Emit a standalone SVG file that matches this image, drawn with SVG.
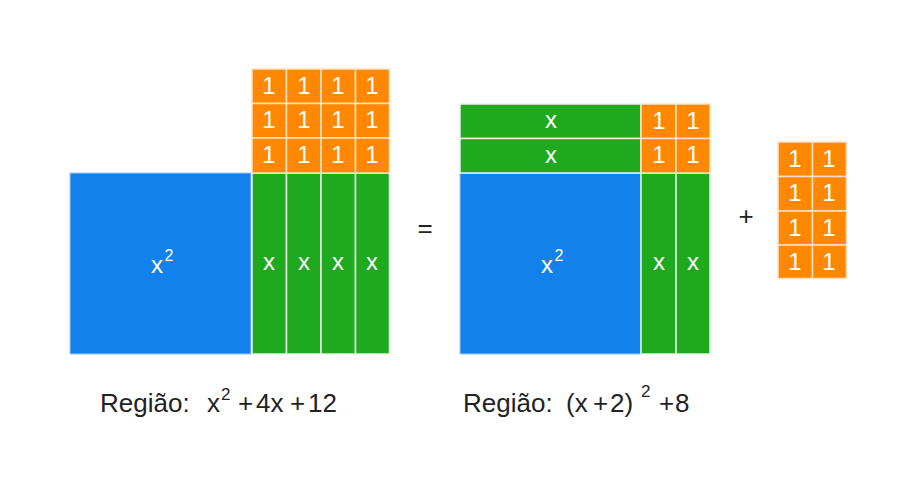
<svg xmlns="http://www.w3.org/2000/svg" width="915" height="498" viewBox="0 0 915 498">
<style>
.b{fill:#1281ec;stroke:#9cc9f5;stroke-width:1}
.g{fill:#1ea91e;stroke:#e6f5e6;stroke-width:1.5}
.o{fill:#ff8800;stroke:#ffe2c2;stroke-width:1.5}
.w{fill:#ffffff;font-family:"Liberation Sans",Arial,sans-serif;font-size:24px;text-anchor:middle}
.w.s{font-size:16px}
.t{fill:#222;font-family:"Liberation Sans",Arial,sans-serif;font-size:26px}
.t.s{font-size:17px}
</style>
<rect width="915" height="498" fill="#fff"/>
<g id="left-x2"><rect class="b" x="70" y="173" width="181" height="181"/><text class="w" x="157" y="273">x</text><text class="w s" x="169" y="261">2</text></g>
<g id="left-x">
<rect class="g" x="252" y="173" width="34.5" height="181"/><rect class="g" x="286.5" y="173" width="34.5" height="181"/><rect class="g" x="321" y="173" width="34.5" height="181"/><rect class="g" x="355.5" y="173" width="34" height="181"/>
<text class="w" x="269" y="270">x</text><text class="w" x="304" y="270">x</text><text class="w" x="338" y="270">x</text><text class="w" x="372" y="270">x</text>
</g>
<g id="left-ones">
<rect class="o" x="252" y="69" width="34.5" height="34.5"/><rect class="o" x="286.5" y="69" width="34.5" height="34.5"/><rect class="o" x="321" y="69" width="34.5" height="34.5"/><rect class="o" x="355.5" y="69" width="34" height="34.5"/>
<rect class="o" x="252" y="103.5" width="34.5" height="34.5"/><rect class="o" x="286.5" y="103.5" width="34.5" height="34.5"/><rect class="o" x="321" y="103.5" width="34.5" height="34.5"/><rect class="o" x="355.5" y="103.5" width="34" height="34.5"/>
<rect class="o" x="252" y="138" width="34.5" height="35"/><rect class="o" x="286.5" y="138" width="34.5" height="35"/><rect class="o" x="321" y="138" width="34.5" height="35"/><rect class="o" x="355.5" y="138" width="34" height="35"/>
<text class="w" x="269" y="94">1</text><text class="w" x="304" y="94">1</text><text class="w" x="338" y="94">1</text><text class="w" x="372" y="94">1</text>
<text class="w" x="269" y="128">1</text><text class="w" x="304" y="128">1</text><text class="w" x="338" y="128">1</text><text class="w" x="372" y="128">1</text>
<text class="w" x="269" y="163">1</text><text class="w" x="304" y="163">1</text><text class="w" x="338" y="163">1</text><text class="w" x="372" y="163">1</text>
</g>
<g id="equals"><text class="t" x="425" y="237" text-anchor="middle">=</text></g>
<g id="right-x2"><rect class="b" x="460" y="173" width="181" height="181"/><text class="w" x="547" y="273">x</text><text class="w s" x="559" y="261">2</text></g>
<g id="right-x">
<rect class="g" x="641" y="173" width="35" height="181"/><rect class="g" x="676" y="173" width="34" height="181"/>
<text class="w" x="659" y="270">x</text><text class="w" x="693" y="270">x</text>
<rect class="g" x="460" y="104" width="181" height="34.5"/><rect class="g" x="460" y="138.5" width="181" height="34.5"/>
<text class="w" x="551" y="128">x</text><text class="w" x="551" y="163">x</text>
</g>
<g id="right-ones">
<rect class="o" x="641" y="104" width="35" height="34.5"/><rect class="o" x="676" y="104" width="34" height="34.5"/>
<rect class="o" x="641" y="138.5" width="35" height="34.5"/><rect class="o" x="676" y="138.5" width="34" height="34.5"/>
<text class="w" x="659" y="129">1</text><text class="w" x="693" y="129">1</text>
<text class="w" x="659" y="163">1</text><text class="w" x="693" y="163">1</text>
</g>
<g id="plus"><text class="t" x="746" y="225" text-anchor="middle">+</text></g>
<g id="extra-ones">
<rect class="o" x="778" y="142" width="34.5" height="34.5"/><rect class="o" x="812.5" y="142" width="34" height="34.5"/>
<rect class="o" x="778" y="176.5" width="34.5" height="34.5"/><rect class="o" x="812.5" y="176.5" width="34" height="34.5"/>
<rect class="o" x="778" y="211" width="34.5" height="34"/><rect class="o" x="812.5" y="211" width="34" height="34"/>
<rect class="o" x="778" y="245" width="34.5" height="33.5"/><rect class="o" x="812.5" y="245" width="34" height="33.5"/>
<text class="w" x="795" y="167">1</text><text class="w" x="829" y="167">1</text>
<text class="w" x="795" y="201">1</text><text class="w" x="829" y="201">1</text>
<text class="w" x="795" y="236">1</text><text class="w" x="829" y="236">1</text>
<text class="w" x="795" y="270">1</text><text class="w" x="829" y="270">1</text>
</g>
<g id="label-left">
<text class="t" x="100" y="412">Região:</text>
<text class="t" x="207" y="412">x</text><text class="t s" x="221" y="400">2</text>
<text class="t" x="238" y="412">+</text><text class="t" x="256" y="412">4x</text><text class="t" x="290" y="412">+</text><text class="t" x="308" y="412">12</text>
</g>
<g id="label-right">
<text class="t" x="463" y="412">Região:</text>
<text class="t" x="566" y="412">(x</text><text class="t" x="593" y="412">+</text><text class="t" x="610" y="412">2)</text>
<text class="t s" x="641" y="397">2</text>
<text class="t" x="659" y="412">+</text><text class="t" x="675" y="412">8</text>
</g>
</svg>
